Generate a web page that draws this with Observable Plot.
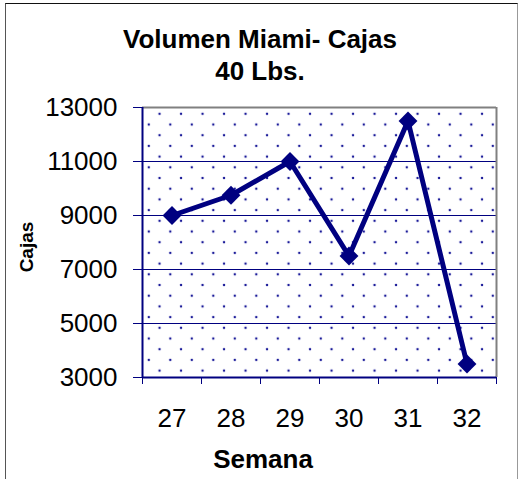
<!DOCTYPE html>
<html>
<head>
<meta charset="utf-8">
<script src="https://cdn.jsdelivr.net/npm/d3@7"></script>
<script src="https://cdn.jsdelivr.net/npm/@observablehq/plot@0.6"></script>
<style>
  html, body { margin: 0; padding: 0; background: #fff; }
  #wrap { position: relative; width: 520px; height: 479px; overflow: hidden; font-family: "Liberation Sans", Arial, sans-serif; }
  #box { position: absolute; left: 5px; top: 3px; width: 511px; height: 520px; border-left: 1px solid #555; border-top: 1px solid #111; border-right: 1px solid #999; }
  .t { position: absolute; white-space: nowrap; font-weight: bold; color: #000; }
  #title { left: 0; width: 520px; top: 23px; text-align: center; font-size: 26px; line-height: 32px; }
  #xlabel { left: 213px; width: 100px; top: 444px; text-align: center; font-size: 26px; line-height: 30px; }
  #ylabel { left: 27px; top: 247px; font-size: 19px; transform: translate(-50%, -50%) rotate(-90deg); }
  svg { position: absolute; left: 0; top: 0; }
</style>
</head>
<body>
<div id="wrap">
  <div id="box"></div>
  <div id="chart"></div>
  <div class="t" id="title">Volumen Miami- Cajas<br>40 Lbs.</div>
  <div class="t" id="xlabel">Semana</div>
  <div class="t" id="ylabel">Cajas</div>
</div>
<script>
const semanas = [27, 28, 29, 30, 31, 32];
const cajas = [9000, 9750, 11000, 7500, 12500, 3500];
const yTicks = [3000, 5000, 7000, 9000, 11000, 13000];
const gridLines = [5000, 7000, 9000, 11000];
const xBounds = [26.5, 27.5, 28.5, 29.5, 30.5, 31.5, 32.5];

const data = semanas.map((s, i) => ({semana: s, cajas: cajas[i]}));
const navy = "#000080";

const defs = () => {
  const d = d3.create("svg:defs");
  const p = d.append("pattern").attr("id", "dots").attr("patternUnits", "userSpaceOnUse")
    .attr("x", 148.3).attr("y", 102.6).attr("width", 21.5).attr("height", 21.4);
  p.append("circle").attr("cx", 10.75).attr("cy", 10.7).attr("r", 1.25).attr("fill", "#1a1a99");
  p.append("circle").attr("cx", 0).attr("cy", 21.4).attr("r", 1.25).attr("fill", "#1a1a99");
  p.append("circle").attr("cx", 21.5).attr("cy", 21.4).attr("r", 1.25).attr("fill", "#1a1a99");
  p.append("circle").attr("cx", 0).attr("cy", 0).attr("r", 1.25).attr("fill", "#1a1a99");
  p.append("circle").attr("cx", 21.5).attr("cy", 0).attr("r", 1.25).attr("fill", "#1a1a99");
  return d.node();
};

const chart = Plot.plot({
  width: 520,
  height: 479,
  marginLeft: 142,
  marginRight: 24,
  marginTop: 107,
  marginBottom: 102,
  style: {fontFamily: "'Liberation Sans', Arial, sans-serif", background: "transparent", color: "#000"},
  x: {type: "linear", domain: [26.5, 32.5]},
  y: {type: "linear", domain: [3000, 13000]},
  marks: [
    defs,
    Plot.frame({fill: "url(#dots)", stroke: null}),
    Plot.ruleY(gridLines, {stroke: navy, strokeWidth: 1.2}),
    Plot.ruleY([13000], {stroke: "#808080", strokeWidth: 2}),
    Plot.ruleX([32.5], {stroke: "#808080", strokeWidth: 2}),
    Plot.axisY(yTicks, {tickSize: 9, tickPadding: 16, fontSize: 26, stroke: navy, label: null, tickFormat: d => String(d)}),
    Plot.axisX(xBounds, {tickSize: 7, stroke: navy, tickFormat: () => "", label: null}),
    Plot.axisX(semanas, {tickSize: 0, tickPadding: 31, fontSize: 26, label: null, tickFormat: d => String(d)}),
    Plot.ruleY([3000], {stroke: navy, strokeWidth: 2}),
    Plot.ruleX([26.5], {stroke: navy, strokeWidth: 2}),
    Plot.line(data, {x: "semana", y: "cajas", stroke: navy, strokeWidth: 5}),
    Plot.dot(data, {x: "semana", y: "cajas", symbol: "diamond2", r: 8.5, fill: navy, stroke: null})
  ]
});
document.getElementById("chart").appendChild(chart);
</script>
</body>
</html>
